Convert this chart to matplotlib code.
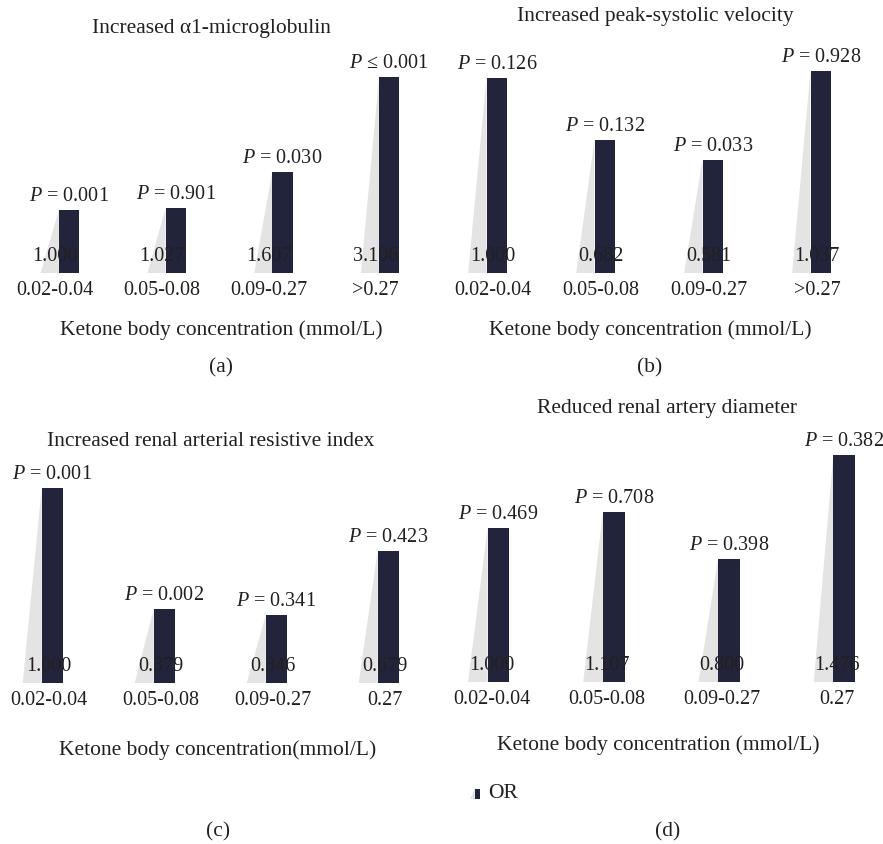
import matplotlib
matplotlib.use("Agg")
import matplotlib.pyplot as plt
from matplotlib.patches import Polygon, Rectangle
from matplotlib.transforms import ScaledTranslation

plt.rcParams["font.family"] = ["Liberation Serif", "DejaVu Serif"]
plt.rcParams["mathtext.fontset"] = "custom"
plt.rcParams["mathtext.rm"] = "Liberation Serif"
plt.rcParams["mathtext.it"] = "Liberation Serif:italic"

# data
titles = [
    "Increased \u03b11-microglobulin",
    "Increased peak-systolic velocity",
    "Increased renal arterial resistive index",
    "Reduced renal artery diameter",
]
xlabels = [
    "Ketone body concentration (mmol/L)",
    "Ketone body concentration (mmol/L)",
    "Ketone body concentration(mmol/L)",
    "Ketone body concentration (mmol/L)",
]
categories_ab = ["0.02-0.04", "0.05-0.08", "0.09-0.27", ">0.27"]
categories_cd = ["0.02-0.04", "0.05-0.08", "0.09-0.27", "0.27"]

or_a = [1.000, 1.027, 1.607, 3.106]
or_b = [1.000, 0.682, 0.581, 1.037]
or_c = [1.000, 0.379, 0.346, 0.679]
or_d = [1.000, 1.107, 0.800, 1.476]

p_a = ["$P$ = 0.001", "$P$ = 0.901", "$P$ = 0.030", "$P$ \u2264 0.001"]
p_b = ["$P$ = 0.126", "$P$ = 0.132", "$P$ = 0.033", "$P$ = 0.928"]
p_c = ["$P$ = 0.001", "$P$ = 0.002", "$P$ = 0.341", "$P$ = 0.423"]
p_d = ["$P$ = 0.469", "$P$ = 0.708", "$P$ = 0.398", "$P$ = 0.382"]

W, H = 883, 844
BAR = "#21243a"
SHADE = "#e4e4e4"
TXT = "#231f20"
FS = 14.5
FS_WORDS = 15.5

fig = plt.figure(figsize=(W / 100, H / 100), dpi=100)

# panel layout in pixels: left, baseline, width, ylim top, bar offset
panels = [
    (1.7, 273, 427, 3.81, 0.13, categories_ab, or_a, p_a),
    (439, 273, 432, 1.23, 0.035, categories_ab, or_b, p_b),
    (-7, 683, 448, 1.23, 0.03, categories_cd, or_c, p_c),
    (434, 682, 461, 1.56, 0.06, categories_cd, or_d, p_d),
]
title_pos = [(211, 28), (655, 16), (211, 442), (667, 408)]
xlabel_pos = [(221, 330), (650, 330), (218, 750), (658, 745)]
letters = ["(a)", "(b)", "(c)", "(d)"]
letter_pos = [(221, 368), (650, 368), (218, 832), (668, 832)]

bw = 0.19
tri = 0.17
axh = 240
for k, (left, base, width, ytop, off, cats, ors, ps) in enumerate(panels):
    ax = fig.add_axes([left / W, (H - base) / H, width / W, axh / H])
    x = list(range(len(cats)))
    ax.set_xlim(-0.5, len(cats) - 0.5)
    ax.set_ylim(0, ytop)
    or_shift = ax.transData + ScaledTranslation(0, 12 / 100, fig.dpi_scale_trans)
    p_shift = ax.transData + ScaledTranslation(0, 9 / 100, fig.dpi_scale_trans)
    for i, v in enumerate(ors):
        bl = i + off - bw / 2
        ax.add_patch(Polygon([(bl - tri, 0), (bl, v), (bl, 0)], closed=True,
                             facecolor=SHADE, edgecolor="none", zorder=1))
        ax.text(i, 0, f"{v:.3f}", ha="center", va="baseline", fontsize=FS,
                color=TXT, zorder=4, transform=or_shift)
        ax.text(i + off, v, ps[i], ha="center", va="baseline", fontsize=FS,
                color=TXT, zorder=4, clip_on=False, transform=p_shift)
    ax.bar([i + off for i in x], ors, width=bw, color=BAR, zorder=3)
    ax.set_xticks(x)
    ax.set_xticklabels(cats, fontsize=FS, color=TXT)
    ax.tick_params(axis="x", length=0, pad=6)
    ax.set_yticks([])
    for s in ax.spines.values():
        s.set_visible(False)
    ax.patch.set_visible(False)

    fig.text(title_pos[k][0] / W, 1 - title_pos[k][1] / H, titles[k],
             ha="center", va="center", fontsize=FS_WORDS, color=TXT)
    fig.text(xlabel_pos[k][0] / W, 1 - xlabel_pos[k][1] / H, xlabels[k],
             ha="center", va="center", fontsize=FS_WORDS, color=TXT)
    fig.text(letter_pos[k][0] / W, 1 - letter_pos[k][1] / H, letters[k],
             ha="center", va="center", fontsize=FS_WORDS, color=TXT)

# legend
fig.add_artist(Polygon([(470 / W, 1 - 799 / H), (475 / W, 1 - 789 / H), (475 / W, 1 - 799 / H)],
                       closed=True, transform=fig.transFigure, facecolor=SHADE, edgecolor="none"))
fig.add_artist(Rectangle((475 / W, 1 - 799 / H), 5 / W, 10 / H, transform=fig.transFigure,
                         facecolor=BAR, edgecolor="none"))
fig.text(488 / W, 1 - 794 / H, "OR", ha="left", va="center", fontsize=FS_WORDS, color=TXT)

fig.savefig("out.png", dpi=100)
